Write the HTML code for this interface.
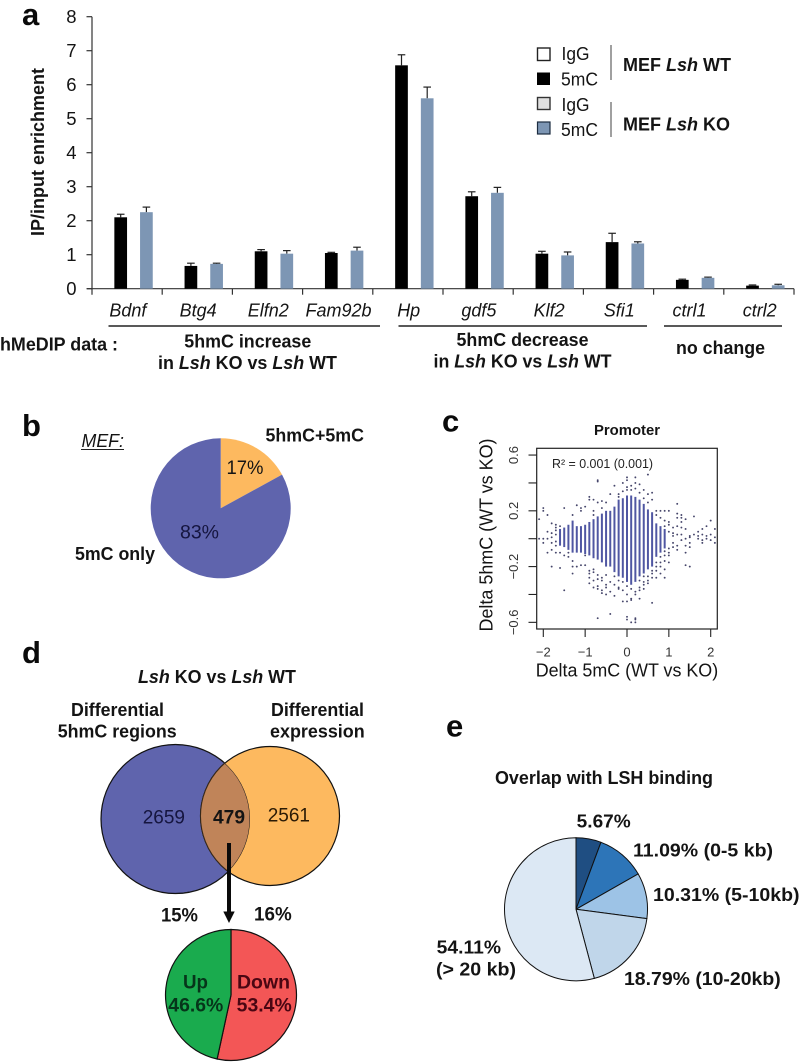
<!DOCTYPE html>
<html lang="en">
<head>
<meta charset="utf-8">
<title>5hmC and 5mC analysis figure</title>
<style>
html,body{margin:0;padding:0;background:#fff;}
svg{display:block;filter:blur(0.35px);}
text{font-family:"Liberation Sans",Arial,sans-serif;fill:#141414;}
.b{font-weight:bold;}
.i{font-style:italic;}
.panel{font-weight:bold;font-size:31px;fill:#0a0a0a;}
</style>
</head>
<body>
<svg id="fig" xmlns="http://www.w3.org/2000/svg" width="800" height="1063" viewBox="0 0 800 1063">
  <!-- Panel a -->
  <g id="panel-a">
    <text class="panel" x="22" y="25">a</text>
    <text class="b" font-size="18.5" transform="translate(44,236) rotate(-90)" textLength="168" lengthAdjust="spacingAndGlyphs">IP/input enrichment</text>
    <g id="bar-axes"></g>
    <g id="bar-marks"></g>
    <g>
      <rect x="537.5" y="48" width="12.5" height="12.5" fill="#fff" stroke="#222" stroke-width="1.4"/>
      <rect x="537" y="72.5" width="13" height="12.5" fill="#000"/>
      <rect x="537.5" y="97.5" width="12.5" height="12" fill="#e0e0e0" stroke="#333" stroke-width="1.4"/>
      <rect x="537.5" y="122" width="12.5" height="12" fill="#7d96b4" stroke="#1c2c40" stroke-width="1.2"/>
      <text x="561.5" y="60" font-size="18.5" textLength="28" lengthAdjust="spacingAndGlyphs">IgG</text>
      <text x="561" y="85.5" font-size="18.5" textLength="37" lengthAdjust="spacingAndGlyphs">5mC</text>
      <text x="561.5" y="111" font-size="18.5" textLength="28" lengthAdjust="spacingAndGlyphs">IgG</text>
      <text x="561" y="136" font-size="18.5" textLength="37" lengthAdjust="spacingAndGlyphs">5mC</text>
      <line x1="611" y1="45" x2="611" y2="80" stroke="#777" stroke-width="1.4"/>
      <line x1="611" y1="102" x2="611" y2="137" stroke="#777" stroke-width="1.4"/>
      <text class="b" x="623" y="71" font-size="18" textLength="108" lengthAdjust="spacingAndGlyphs">MEF <tspan class="i">Lsh</tspan> WT</text>
      <text class="b" x="623" y="130.5" font-size="18" textLength="107" lengthAdjust="spacingAndGlyphs">MEF <tspan class="i">Lsh</tspan> KO</text>
    </g>
    <g>
      <line x1="108.5" y1="326" x2="380" y2="326" stroke="#222" stroke-width="1.5"/>
      <line x1="398.5" y1="326" x2="647" y2="326" stroke="#222" stroke-width="1.5"/>
      <line x1="664" y1="326" x2="782" y2="326" stroke="#222" stroke-width="1.5"/>
      <text class="b" x="0" y="350.5" font-size="18" textLength="118" lengthAdjust="spacingAndGlyphs">hMeDIP data :</text>
      <text class="b" x="184.3" y="347.7" font-size="18" textLength="127" lengthAdjust="spacingAndGlyphs">5hmC increase</text>
      <text class="b" x="158" y="369" font-size="18" textLength="179" lengthAdjust="spacingAndGlyphs">in <tspan class="i">Lsh</tspan> KO vs <tspan class="i">Lsh</tspan> WT</text>
      <text class="b" x="456.5" y="346" font-size="18" textLength="132" lengthAdjust="spacingAndGlyphs">5hmC decrease</text>
      <text class="b" x="433.5" y="367.5" font-size="18" textLength="178" lengthAdjust="spacingAndGlyphs">in <tspan class="i">Lsh</tspan> KO vs <tspan class="i">Lsh</tspan> WT</text>
      <text class="b" x="676" y="354" font-size="18" textLength="89" lengthAdjust="spacingAndGlyphs">no change</text>
    </g>
  </g>

  <!-- Panel b -->
  <g id="panel-b">
    <text class="panel" x="22" y="436">b</text>
    <text class="i" x="81.5" y="447" font-size="18" textLength="42.5" lengthAdjust="spacingAndGlyphs">MEF:</text>
    <line x1="81" y1="449.5" x2="124" y2="449.5" stroke="#222" stroke-width="1"/>
    <g id="pie-b"></g>
    <text class="b" x="265.5" y="441.7" font-size="18" textLength="98.5" lengthAdjust="spacingAndGlyphs">5hmC+5mC</text>
    <text x="226.5" y="474" font-size="19.5" textLength="37" lengthAdjust="spacingAndGlyphs">17%</text>
    <text x="180" y="538.5" font-size="19.5" textLength="39" lengthAdjust="spacingAndGlyphs" style="fill:#15153f">83%</text>
    <text class="b" x="75" y="560" font-size="18" textLength="80" lengthAdjust="spacingAndGlyphs">5mC only</text>
  </g>

  <!-- Panel c -->
  <g id="panel-c">
    <text class="panel" x="442" y="431.5">c</text>
    <text class="b" x="594" y="435" font-size="15" textLength="66" lengthAdjust="spacingAndGlyphs">Promoter</text>
    <g id="scatter-marks"></g>
    <rect x="536.7" y="448.3" width="180.6" height="180.7" fill="none" stroke="#222" stroke-width="1.2"/>
    <g id="scatter-axes"></g>
    <text x="552" y="468" font-size="13" textLength="101" lengthAdjust="spacingAndGlyphs" style="fill:#222">R² = 0.001 (0.001)</text>
    <text font-size="18.5" transform="translate(492.5,631.5) rotate(-90)" textLength="193" lengthAdjust="spacingAndGlyphs">Delta 5hmC (WT vs KO)</text>
    <text x="535.7" y="676.5" font-size="18.5" textLength="182.5" lengthAdjust="spacingAndGlyphs">Delta 5mC (WT vs KO)</text>
  </g>

  <!-- Panel d -->
  <g id="panel-d">
    <text class="panel" x="22" y="663">d</text>
    <text class="b" x="138" y="683" font-size="18" textLength="158" lengthAdjust="spacingAndGlyphs"><tspan class="i">Lsh</tspan> KO vs <tspan class="i">Lsh</tspan> WT</text>
    <text class="b" x="71" y="716" font-size="18" textLength="93" lengthAdjust="spacingAndGlyphs">Differential</text>
    <text class="b" x="57.7" y="737.3" font-size="18" textLength="119" lengthAdjust="spacingAndGlyphs">5hmC regions</text>
    <text class="b" x="271" y="716" font-size="18" textLength="93" lengthAdjust="spacingAndGlyphs">Differential</text>
    <text class="b" x="270" y="737.3" font-size="18" textLength="94.7" lengthAdjust="spacingAndGlyphs">expression</text>
    <defs>
      <clipPath id="venn-clip"><circle cx="175.5" cy="819" r="74.5"/></clipPath>
    </defs>
    <circle cx="175.5" cy="819" r="74.5" fill="#5f64ad" stroke="#111" stroke-width="1.2"/>
    <circle cx="270" cy="816" r="69.5" fill="#fdb95f" stroke="#111" stroke-width="1.2"/>
    <circle cx="270" cy="816" r="69.5" fill="#c08459" clip-path="url(#venn-clip)"/>
    <path d="M175.5 744.5 A74.5 74.5 0 0 1 175.5 893.5" fill="none" stroke="#1a1a1a" stroke-width="1" clip-path="url(#venn-clip)"/>
    <circle cx="270" cy="816" r="69.5" fill="none" stroke="#3a2a1a" stroke-width="1" clip-path="url(#venn-clip)"/>
    <text x="142.7" y="823.3" font-size="19.5" textLength="42.3" lengthAdjust="spacingAndGlyphs" style="fill:#15153f">2659</text>
    <text class="b" x="213" y="823.3" font-size="19.5" textLength="32" lengthAdjust="spacingAndGlyphs">479</text>
    <text x="267.7" y="821.7" font-size="19.5" textLength="42.3" lengthAdjust="spacingAndGlyphs" style="fill:#2a1a05">2561</text>
    <g>
      <line x1="229" y1="843" x2="229" y2="913" stroke="#0a0a0a" stroke-width="4"/>
      <polygon points="223.3,911.5 234.7,911.5 229,923" fill="#0a0a0a"/>
    </g>
    <text class="b" x="161" y="921.7" font-size="19" textLength="37" lengthAdjust="spacingAndGlyphs">15%</text>
    <text class="b" x="254" y="920.7" font-size="19" textLength="37.7" lengthAdjust="spacingAndGlyphs">16%</text>
    <g id="pie-d"></g>
    <text class="b" x="183" y="988.3" font-size="19" textLength="25" lengthAdjust="spacingAndGlyphs" style="fill:#06351a">Up</text>
    <text class="b" x="168.3" y="1011.7" font-size="19" textLength="55" lengthAdjust="spacingAndGlyphs" style="fill:#06351a">46.6%</text>
    <text class="b" x="237" y="988.3" font-size="19" textLength="53" lengthAdjust="spacingAndGlyphs" style="fill:#4a0612">Down</text>
    <text class="b" x="236.7" y="1011.7" font-size="19" textLength="55" lengthAdjust="spacingAndGlyphs" style="fill:#4a0612">53.4%</text>
  </g>

  <!-- Panel e -->
  <g id="panel-e">
    <text class="panel" x="446" y="736.7">e</text>
    <text class="b" x="495" y="784" font-size="18" textLength="218" lengthAdjust="spacingAndGlyphs">Overlap with LSH binding</text>
    <g id="pie-e"></g>
    <text class="b" x="576.7" y="827.3" font-size="18.5" textLength="54" lengthAdjust="spacingAndGlyphs">5.67%</text>
    <text class="b" x="633" y="856.7" font-size="18.5" textLength="140" lengthAdjust="spacingAndGlyphs">11.09% (0-5 kb)</text>
    <text class="b" x="653" y="901" font-size="18.5" textLength="146.5" lengthAdjust="spacingAndGlyphs">10.31% (5-10kb)</text>
    <text class="b" x="624" y="985" font-size="18.5" textLength="156.7" lengthAdjust="spacingAndGlyphs">18.79% (10-20kb)</text>
    <text class="b" x="436.7" y="953.3" font-size="18.5" textLength="64.3" lengthAdjust="spacingAndGlyphs">54.11%</text>
    <text class="b" x="436" y="975.7" font-size="18.5" textLength="80" lengthAdjust="spacingAndGlyphs">(&gt; 20 kb)</text>
  </g>
</svg>

<script>
// ---- Panel a data ----
var geneNames = ['Bdnf','Btg4','Elfn2','Fam92b','Hp','gdf5','Klf2','Sfi1','ctrl1','ctrl2'];
var wtValues = [2.1,0.67,1.1,1.05,6.57,2.72,1.03,1.37,0.26,0.09];
var wtErrors = [0.09,0.08,0.05,0.02,0.31,0.13,0.07,0.26,0.02,0.02];
var koValues = [2.25,0.73,1.03,1.12,5.6,2.82,0.98,1.33,0.32,0.1];
var koErrors = [0.15,0.02,0.09,0.1,0.33,0.16,0.1,0.05,0.02,0.03];
var barTicks = [0,1,2,3,4,5,6,7,8];

// ---- Panel b, d, e data ----
var methylationShares = [17,83];
var upDownShares = [53.4,46.6];
var lshShares = [5.67,11.09,10.31,18.79,54.11];

// ---- Panel c data ----
var stripX = [-1.6,-1.5,-1.4,-1.3,-1.2,-1.1,-1,-0.9,-0.8,-0.7,-0.6,-0.5,-0.4,-0.3,-0.2,-0.1,0,0.1,0.2,0.3,0.4,0.5,0.6,0.7,0.8,0.9];
var stripHigh = [0.07,0.08,0.1,0.13,0.09,0.09,0.1,0.12,0.14,0.16,0.18,0.2,0.2,0.23,0.28,0.29,0.31,0.31,0.3,0.28,0.25,0.21,0.19,0.11,0.09,0.07];
var stripLow = [-0.05,-0.06,-0.08,-0.1,-0.1,-0.1,-0.11,-0.12,-0.14,-0.15,-0.17,-0.2,-0.2,-0.24,-0.27,-0.28,-0.31,-0.33,-0.31,-0.27,-0.25,-0.22,-0.2,-0.13,-0.1,-0.07];
var outlierColumns = [-2.1,-2,-1.9,-1.8,-1.7,-1.6,-1.5,-1.4,-1.3,-1.2,-1.1,-1,-0.9,-0.8,-0.7,-0.6,-0.5,-0.4,-0.3,-0.2,-0.1,0,0.1,0.2,0.3,0.4,0.5,0.6,0.7,0.8,0.9,1,1.1,1.2,1.3,1.4,1.5,1.6,1.7,1.8,1.9,2,2.1];
var outlierValues = [
  [0.14,0],
  [0.22,0.2,0,-0.03],
  [0.17,0.05,0,-0.1],
  [0.11,0.04,0.01,-0.03,-0.08,-0.2],
  [0.1,0.08,0.06,0.03,-0.02,-0.05,-0.1],
  [0.09,-0.1,-0.21],
  [0.22,-0.12,-0.37],
  [-0.1,-0.13],
  [0.17,-0.16,-0.2,-0.25],
  [0.24,-0.2],
  [0.22,0.2,-0.19],
  [0.23,-0.12,-0.19],
  [0.3,0.28,-0.23,-0.25,-0.28,-0.32],
  [0.28,0.2,0.17,-0.22,-0.24,-0.3,-0.35],
  [0.42,0.41,0.26,-0.26,-0.29,-0.34,-0.36,-0.57],
  [0.27,0.22,-0.28,-0.3,-0.37,-0.39],
  [0.26,-0.26,-0.33,-0.35,-0.4],
  [0.32,-0.31,-0.38,-0.54],
  [0.38,-0.27,-0.33,-0.41],
  [0.32,0.3,-0.3,-0.35,-0.36],
  [0.4,0.34,-0.31,-0.37,-0.45],
  [0.44,0.42,0.37,0.35,-0.34,-0.4,-0.45,-0.56,-0.58],
  [0.38,0.35,-0.36,-0.43,-0.44,-0.6],
  [0.44,0.4,0.36,-0.38,-0.4,-0.57,-0.58,-0.6],
  [0.39,0.33,-0.3,-0.35,-0.37,-0.43],
  [0.35,0.29,-0.27,-0.31,-0.33,-0.36],
  [0.46,0.32,0.26,-0.27,-0.3,-0.32],
  [0.33,0.28,-0.23,-0.25,-0.28,-0.46],
  [0.2,0.17,-0.17,-0.2,-0.23,-0.28],
  [0.2,0.15,-0.13,-0.17,-0.2,-0.25],
  [0.2,0.13,0.09,-0.09,-0.12,-0.16,-0.22,-0.28],
  [0.2,0.12,0.1,0.05,-0.07,-0.1,-0.12,-0.17],
  [0.08,0.04,0.02,-0.03,-0.06],
  [0.25,0.18,0.15,0.09,0.03,-0.05,-0.08],
  [0.17,0.15,0.12,0.08,0.03,-0.01],
  [0.14,0.07,0,-0.05,-0.1,-0.19],
  [0.02,0.01,-0.03,-0.06,-0.2],
  [0.16,0.03],
  [0.05,0.02,0],
  [0.07,0.03,-0.01,-0.03],
  [0.09,0.02,0],
  [0.13,0.03,-0.01],
  [0.07,0.01,-0.03]
];
var scatterXTicks = [-2,-1,0,1,2];
var scatterYTicks = [-0.6,-0.4,-0.2,0,0.2,0.4,0.6];
var scatterYLabels = ['\u22120.6','','\u22120.2','','0.2','','0.6'];
var scatterXLabels = ['\u22122','\u22121','0','1','2'];

var NS = 'http://www.w3.org/2000/svg';
function mk(tag, attrs, parent) {
  var el = document.createElementNS(NS, tag);
  for (var k in attrs) { el.setAttribute(k, attrs[k]); }
  parent.appendChild(el);
  return el;
}

// ---- Bar chart ----
var barAxisX = 92, barBaseY = 288.7, barUnit = 34, barStep = 70.2, barWidth = 12.7;
function barY(v) { return barBaseY - v * barUnit; }
function catLeft(i) { return barAxisX + i * barStep; }

var barAxes = document.getElementById('bar-axes');
var barMarks = document.getElementById('bar-marks');

var yAxisLine = mk('line', {x1: barAxisX, y1: barY(8), x2: barAxisX, y2: barBaseY + 6, stroke: '#333', 'stroke-width': 1.2}, barAxes);


var xAxisLine = mk('line', {x1: barAxisX - 5, y1: barBaseY, x2: catLeft(geneNames.length), y2: barBaseY, stroke: '#333', 'stroke-width': 1.2}, barAxes);



barTicks.forEach(function (t) {
  var tick = mk('line', {x1: barAxisX - 5.5, y1: barY(t), x2: barAxisX, y2: barY(t), stroke: '#333', 'stroke-width': 1.2}, barAxes);
  
  
  var lab = mk('text', {x: 76.5, y: barY(t) + 6.5, 'font-size': 18.5, 'text-anchor': 'end'}, barAxes);
  lab.textContent = String(t);
  
  
});

geneNames.forEach(function (g, i) {
  var tick = mk('line', {x1: catLeft(i + 1), y1: barBaseY, x2: catLeft(i + 1), y2: barBaseY + 6, stroke: '#333', 'stroke-width': 1.2}, barAxes);
  
  
  var lab = mk('text', {x: catLeft(i) + barStep * 0.5 + 0.8, y: 316.7, 'font-size': 18, 'font-style': 'italic', 'text-anchor': 'middle'}, barAxes);
  lab.textContent = g;
  
  

  function drawBar(center, value, err, color, name) {
    var whisker = mk('line', {x1: center, y1: barY(value), x2: center, y2: barY(value + err), stroke: '#222', 'stroke-width': 1.2}, barMarks);
    
    
    var cap = mk('line', {x1: center - 3.8, y1: barY(value + err), x2: center + 3.8, y2: barY(value + err), stroke: '#222', 'stroke-width': 1.2}, barMarks);
    
    
    var r = mk('rect', {x: center - barWidth / 2, y: barY(value), width: barWidth, height: barBaseY - barY(value), fill: color}, barMarks);
    
    
  }
  drawBar(catLeft(i) + 28.7, wtValues[i], wtErrors[i], '#000000', 'bar-wt-5mc');
  drawBar(catLeft(i) + 54.4, koValues[i], koErrors[i], '#7d96b4', 'bar-ko-5mc');
});

// ---- Pies ----
function drawPie(groupId, cx, cy, r, values, colors, stroke, strokeWidth, sliceName) {
  var group = document.getElementById(groupId);
  var total = values.reduce(function (a, b) { return a + b; }, 0);
  var acc = 0;
  values.forEach(function (v, i) {
    var a0 = acc / total * 2 * Math.PI;
    acc += v;
    var a1 = acc / total * 2 * Math.PI;
    var x0 = cx + r * Math.sin(a0), y0 = cy - r * Math.cos(a0);
    var x1 = cx + r * Math.sin(a1), y1 = cy - r * Math.cos(a1);
    var large = (a1 - a0) > Math.PI ? 1 : 0;
    var d = 'M' + cx + ' ' + cy + 'L' + x0 + ' ' + y0 + 'A' + r + ' ' + r + ' 0 ' + large + ' 1 ' + x1 + ' ' + y1 + 'Z';
    var p = mk('path', {d: d, fill: colors[i], stroke: stroke, 'stroke-width': strokeWidth}, group);
    
    
  });
}
drawPie('pie-b', 220.7, 508.3, 70, methylationShares, ['#fdb95f', '#5f64ad'], 'none', 0, 'methylation-pie-slice');
drawPie('pie-d', 231, 995, 65.5, upDownShares, ['#f35656', '#1aab4e'], '#111', 1.2, 'up-down-pie-slice');
drawPie('pie-e', 576, 909.3, 71.5, lshShares, ['#1f4e82', '#2d75b8', '#9dc3e6', '#c0d6ea', '#dce8f4'], '#111', 1, 'lsh-pie-slice');

// ---- Scatter ----
function sx(v) { return 627 + v * 41.85; }
function sy(v) { return 538.7 - v * 139.4; }
var scatterMarks = document.getElementById('scatter-marks');
var scatterAxes = document.getElementById('scatter-axes');

stripX.forEach(function (x, i) {
  var s = mk('line', {x1: sx(x), x2: sx(x), y1: sy(stripHigh[i]), y2: sy(stripLow[i]), stroke: '#4f56a2', 'stroke-width': 2}, scatterMarks);
  
  
});
outlierColumns.forEach(function (x, i) {
  outlierValues[i].forEach(function (y) {
    var c = mk('circle', {cx: sx(x), cy: sy(y), r: 0.95, fill: '#45456a'}, scatterMarks);
    
    
  });
});
scatterXTicks.forEach(function (t, i) {
  var tick = mk('line', {x1: sx(t), x2: sx(t), y1: 629, y2: 637, stroke: '#222', 'stroke-width': 1.1}, scatterAxes);
  
  
  var lab = mk('text', {x: sx(t), y: 656.5, 'font-size': 13, 'text-anchor': 'middle'}, scatterAxes);
  lab.textContent = scatterXLabels[i];
  lab.style.fill = '#333';
  
  
});
scatterYTicks.forEach(function (t, i) {
  var tick = mk('line', {x1: 528.5, x2: 536.7, y1: sy(t), y2: sy(t), stroke: '#222', 'stroke-width': 1.1}, scatterAxes);
  
  
  if (scatterYLabels[i]) {
    var lab = mk('text', {transform: 'translate(518,' + sy(t) + ') rotate(-90)', 'font-size': 13, 'text-anchor': 'middle'}, scatterAxes);
    lab.textContent = scatterYLabels[i];
    lab.style.fill = '#333';
    
    
  }
});
</script>
</body>
</html>
